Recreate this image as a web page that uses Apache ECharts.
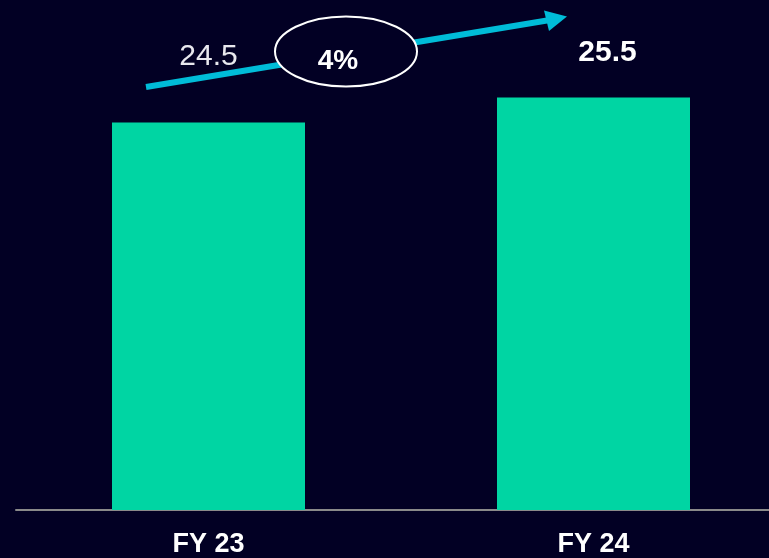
<!DOCTYPE html>
<html>
<head>
<meta charset="utf-8">
<script src="https://cdn.jsdelivr.net/npm/echarts@6/dist/echarts.min.js"></script>
<style>
  html, body { margin: 0; padding: 0; background: #020024; width: 769px; height: 558px; overflow: hidden; }
  #main { width: 786px; height: 558px; }
</style>
</head>
<body>
<div id="main"></div>
<script>
const categories = ['FY 23', 'FY 24']
const values = [24.5, 25.5]
const growthLabel = '4%'

const chart = echarts.init(document.getElementById('main'))

// chart is a bit wider than the window so the second bar sits where the source has it
const option = {
  backgroundColor: '#020024',
  animation: false,
  grid: { left: 16, right: 0, top: 60, bottom: 48 },
  xAxis: {
    type: 'category',
    data: categories,
    axisLine: { lineStyle: { color: '#8a8a8a', width: 2 } },
    axisTick: { show: false },
    axisLabel: {
      color: '#ffffff',
      fontFamily: 'Liberation Sans, Arial',
      fontWeight: 'bold',
      fontSize: 27,
      margin: 21
    }
  },
  yAxis: {
    type: 'value',
    min: 9,
    max: 27,
    show: false
  },
  series: [{
    type: 'bar',
    barWidth: 193,
    itemStyle: { color: '#00D5A3' },
    data: values.map((v, i) => ({
      value: v,
      label: i === 0
        ? { distance: 51, fontWeight: 'normal', color: '#e8e8ee' }
        : { distance: 30, offset: [14, 0], fontWeight: 'bold', color: '#ffffff' }
    })),
    label: {
      show: true,
      position: 'top',
      fontFamily: 'Liberation Sans, Arial',
      fontSize: 30
    }
  }],
  graphic: [
    {
      type: 'line',
      z: 10,
      shape: { x1: 146, y1: 87, x2: 550, y2: 20 },
      style: { stroke: '#00BCD8', lineWidth: 6 }
    },
    {
      type: 'polygon',
      z: 10,
      shape: { points: [[567, 16.5], [544, 10.5], [549, 31]] },
      style: { fill: '#00BCD8' }
    },
    {
      type: 'ellipse',
      z: 11,
      shape: { cx: 346, cy: 51.5, rx: 71, ry: 35 },
      style: { fill: '#020024', stroke: '#ffffff', lineWidth: 2 }
    },
    {
      type: 'text',
      z: 12,
      x: 338,
      y: 61,
      style: {
        text: growthLabel,
        fill: '#ffffff',
        font: 'bold 28px Liberation Sans, Arial',
        align: 'center',
        verticalAlign: 'middle'
      }
    }
  ]
}

chart.setOption(option)
</script>
</body>
</html>
